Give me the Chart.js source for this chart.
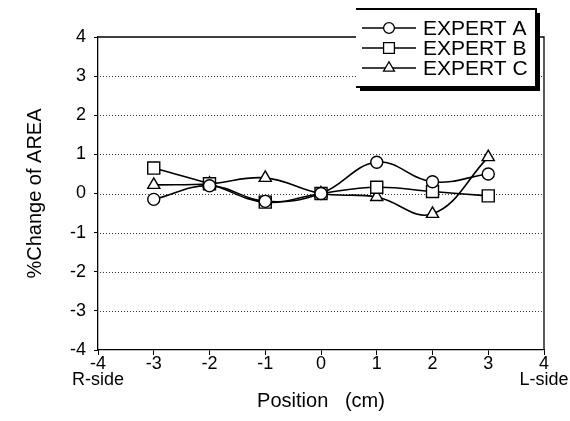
<!DOCTYPE html>
<html>
<head>
<meta charset="utf-8">
<script src="https://cdn.jsdelivr.net/npm/chart.js@4/dist/chart.umd.min.js"></script>
<style>
  html, body { margin: 0; padding: 0; background: #fff; }
  #wrap { width: 570px; height: 421px; position: relative; }
</style>
</head>
<body>
<div id="wrap"><canvas id="c" width="570" height="421"></canvas></div>
<script>
// Position along the scan line (cm)
const positions = [-3, -2, -1, 0, 1, 2, 3];
// % change of area measured by each expert
const expertA = [-0.15, 0.2, -0.2, 0, 0.8, 0.3, 0.5];
const expertB = [0.65, 0.25, -0.22, 0, 0.16, 0.05, -0.06];
const expertC = [0.22, 0.25, 0.4, 0, -0.09, -0.52, 0.93];
const seriesNames = ['EXPERT A', 'EXPERT B', 'EXPERT C'];
const markerStyles = ['circle', 'rect', 'triangle'];
const xTicks = [-4, -3, -2, -1, 0, 1, 2, 3, 4];
const yTicks = [-4, -3, -2, -1, 0, 1, 2, 3, 4];
const dottedLevels = [-3, -2, -1, 0, 1, 2, 3];

const FONT = 'Arial, "Liberation Sans", Helvetica, sans-serif';

function toPoints(vals) {
  return positions.map((x, i) => ({ x: x, y: vals[i] }));
}

const radii = [6, 8.5, 7];
const datasets = [expertA, expertB, expertC].map((vals, i) => ({
  label: seriesNames[i],
  data: toPoints(vals),
  borderColor: '#000',
  borderWidth: 1.6,
  backgroundColor: '#fff',
  pointStyle: markerStyles[i],
  pointRadius: radii[i],
  pointBorderWidth: 1.4,
  pointBackgroundColor: '#fff',
  pointBorderColor: '#000',
  tension: 0.4,
  fill: false
}));

// dotted horizontal gridlines plus the top and right edges of the plot frame
const frameAndDots = {
  id: 'frameAndDots',
  beforeDatasetsDraw(chart) {
    const { ctx, chartArea: a, scales: { y } } = chart;
    ctx.save();
    ctx.strokeStyle = '#333';
    ctx.lineWidth = 1;
    ctx.setLineDash([1, 2]);
    dottedLevels.forEach(v => {
      const py = Math.round(y.getPixelForValue(v)) + 0.5;
      ctx.beginPath();
      ctx.moveTo(a.left + 2, py);
      ctx.lineTo(a.right - 1, py);
      ctx.stroke();
    });
    ctx.setLineDash([]);
    ctx.strokeStyle = '#000';
    ctx.lineWidth = 1.3;
    ctx.beginPath();
    ctx.moveTo(a.left, a.top);
    ctx.lineTo(a.right, a.top);
    ctx.lineTo(a.right, a.bottom);
    ctx.stroke();
    ctx.restore();
  }
};

// Boxed legend with a drop shadow, drawn in the upper right corner
const boxLegend = {
  id: 'boxLegend',
  afterDatasetsDraw(chart) {
    const ctx = chart.ctx;
    const L = 356, T = 9, R = 536, B = 87;
    ctx.save();
    ctx.fillStyle = '#000';
    ctx.fillRect(L + 4, T + 4, R - L, B - T);
    ctx.fillStyle = '#fff';
    ctx.fillRect(L, T, R - L, B - T);
    ctx.strokeStyle = '#000';
    ctx.lineWidth = 2;
    ctx.beginPath();
    ctx.moveTo(L, T); ctx.lineTo(R, T); ctx.lineTo(R, B); ctx.lineTo(L, B);
    ctx.stroke();
    const rowY = [28, 48, 68];
    chart.data.datasets.forEach((ds, i) => {
      const y = rowY[i];
      ctx.strokeStyle = '#000';
      ctx.lineWidth = 1.4;
      ctx.beginPath();
      ctx.moveTo(362, y); ctx.lineTo(416, y);
      ctx.stroke();
      ctx.fillStyle = '#fff';
      ctx.lineWidth = 1.3;
      Chart.helpers.drawPoint(ctx, { pointStyle: ds.pointStyle, radius: ds.pointRadius * 0.9, borderWidth: 1.3, rotation: 0 }, 389, y);
      ctx.fillStyle = '#000';
      ctx.font = '21px ' + FONT;
      ctx.textBaseline = 'middle';
      ctx.textAlign = 'left';
      ctx.fillText(ds.label, 423, y + 1);
    });
    ctx.restore();
  }
};

new Chart(document.getElementById('c'), {
  type: 'line',
  data: { datasets: datasets },
  plugins: [frameAndDots, boxLegend],
  options: {
    responsive: false,
    animation: false,
    devicePixelRatio: 1,
    layout: { padding: { top: 37, right: 26, left: 0, bottom: 0 } },
    plugins: { legend: { display: false }, tooltip: { enabled: false } },
    scales: {
      x: {
        type: 'linear',
        min: -4, max: 4,
        afterBuildTicks(scale) { scale.ticks = xTicks.map(v => ({ value: v })); },
        afterFit(scale) { scale.height = 71; },
        border: { display: true, color: '#000', width: 1.3 },
        grid: { display: true, drawOnChartArea: false, drawTicks: true, tickLength: 5, color: '#000', lineWidth: 1 },
        ticks: {
          color: '#000',
          font: { family: FONT, size: 18, lineHeight: 0.9 },
          padding: 1,
          maxRotation: 0,
          autoSkip: false,
          callback(v) {
            if (v === -4) return ['-4', 'R-side'];
            if (v === 4) return ['4', 'L-side'];
            return String(v);
          }
        },
        title: {
          display: true,
          text: 'Position   (cm)',
          color: '#000',
          font: { family: FONT, size: 20 },
          padding: { top: 0, bottom: 8 }
        }
      },
      y: {
        type: 'linear',
        min: -4, max: 4,
        afterBuildTicks(scale) { scale.ticks = yTicks.map(v => ({ value: v })); },
        afterFit(scale) { scale.width = 98; },
        border: { display: true, color: '#000', width: 1.3 },
        grid: { display: true, drawOnChartArea: false, drawTicks: true, tickLength: 4, color: '#000', lineWidth: 1 },
        ticks: {
          color: '#000',
          font: { family: FONT, size: 18 },
          padding: 8,
          autoSkip: false
        },
        title: {
          display: true,
          text: '%Change of AREA',
          color: '#000',
          font: { family: FONT, size: 20 },
          padding: { top: 23, bottom: 0 }
        }
      }
    }
  }
});
</script>
</body>
</html>
